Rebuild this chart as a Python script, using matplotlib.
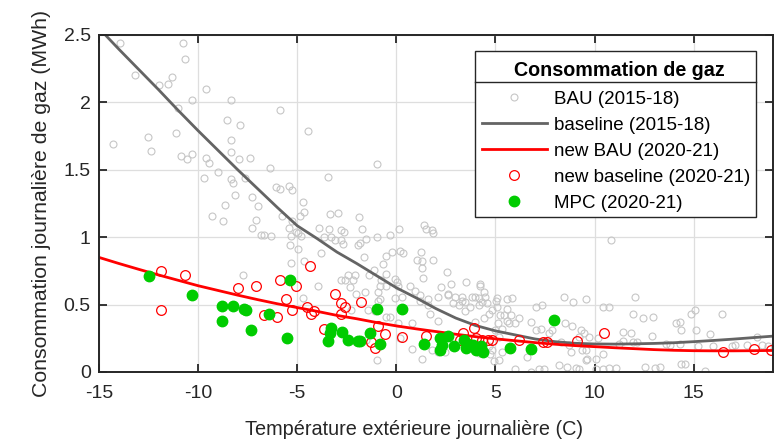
import numpy as np
import matplotlib
matplotlib.use('Agg')
import matplotlib.pyplot as plt
from matplotlib.lines import Line2D
from matplotlib.patches import Rectangle

plt.rcParams['font.family'] = ['Liberation Sans', 'DejaVu Sans']
plt.rcParams['axes.unicode_minus'] = False

# === BAU 2015-18 (grey circles) ===
bau_x = [-13.94, -10.76, -10.64, -13.17, -11.31, -11.99, -11.53, -9.59, -10.33, -8.32, -11.03, -5.87,
         -8.52, -7.90, -4.47, -12.55, -11.11, -14.31, -12.40, -8.32, -8.32, -10.86, -10.57, -10.30,
         -9.62, -9.47, -7.94, -7.36, -6.38, -0.99, -9.68, -8.98, -8.36, -8.24, -7.63, -3.45, -8.14,
         -7.28, -8.63, -6.97, -6.06, -5.86, -5.43, -5.28, -4.72, -4.67, -4.84, -3.37, -2.95, -1.88,
         -9.28, -8.76, -7.10, -5.77, -7.26, -5.43, -5.26, -3.88, -3.42, -2.80, -1.71, 0.13, 1.39,
         1.50, 1.80,
         -2.66, -0.33, -1.00, -1.51, -3.12, -2.78, -2.69, -3.29, -1.85, -1.93, -0.24, 0.18, 0.35,
         -0.50, -0.66, -1.63, 1.24, 1.02, 1.28, 1.31, 1.36, 1.87, -1.14, -0.50, -0.08, 0.01, -0.75,
         -0.84, -1.39, -2.10, -2.44, -2.19, -2.61, -2.78, -2.36, -2.02, -0.92, -0.50, 0.10, 0.69,
         0.94, 1.19, 2.55, 2.24, 2.75, 3.52, 4.20, 4.41, 4.49, 3.98, 3.31, 2.97, 2.63, 2.12, 1.62,
         5.08, 5.59,
         -1.60, -0.84, -0.08, 0.30, 1.19, 1.62, 3.31, 3.81, 4.15, 2.88, 3.14, 3.47, 3.73, 4.15,
         4.57, 5.03, 5.08, 4.83, 5.25, 4.66, 4.41, 3.98, 3.44, 5.13, 5.33, 5.00, 5.17, 4.83, 5.17,
         4.91, 4.74, -1.00, 0.77, 1.28, 1.70, -0.53, -0.33, -2.27,
         -7.76, -7.51, -5.31, -4.64, -3.79, -5.35, -4.94, -4.72, -3.96, -5.31, -5.06, -4.97, -4.81,
         -6.84, -6.33, -6.67, -3.63, -1.42, -1.09, -0.95, 0.10, 0.77, 2.12, 1.78, -2.02, -1.51, 0.18,
         1.87, 10.83, 2.60, 4.23, 4.32,
         5.59, 5.84, 5.42, 5.59, 5.76, 6.01, 6.18, 5.67, 6.77, 7.02, 7.36, 7.06, 7.28, 7.70, 8.46,
         8.92, 9.59, 8.51, 8.88, 10.41, 10.75, 10.15, 9.73, 9.22, 8.72, 8.80, 9.56, 10.07, 8.21,
         8.63, 9.05, 9.22, 10.75, 11.08, 12.52, 13.03, 13.31, 14.38, 14.55, 15.56, 6.01, 6.77, 7.19,
         7.45, 11.93, 12.43, 12.94, 12.06, 14.29, 14.38, 14.88, 15.05, 15.14, 15.82, 16.41, 17.08,
         16.91, 18.18, 17.67, 18.43, 18.77, 13.62, 13.79, 14.29, 15.22, 15.98, 11.93, 12.13, 11.42,
         11.84, 11.42, 9.56, 6.60, 5.33, 4.66, 4.15, 2.46, 2.12,
         14.12, 7.87, 9.31, 9.48, 12.90, 8.29, 9.39, 9.64, 10.41, 11.25, 10.07, 10.41]
bau_y = [2.44, 2.44, 2.32, 2.20, 2.19, 2.13, 2.14, 2.10, 2.02, 2.02, 1.96, 1.94,
         1.87, 1.83, 1.79, 1.74, 1.77, 1.69, 1.64, 1.72, 1.63, 1.60, 1.58, 1.62,
         1.59, 1.55, 1.58, 1.59, 1.51, 1.54, 1.44, 1.48, 1.43, 1.40, 1.44, 1.45, 1.31,
         1.30, 1.24, 1.23, 1.37, 1.36, 1.38, 1.35, 1.26, 1.19, 1.16, 1.17, 1.18, 1.15,
         1.16, 1.12, 1.13, 1.16, 1.07, 1.07, 1.12, 1.07, 1.06, 1.05, 1.06, 1.06, 1.09,
         1.06, 1.05,
         1.04, 1.02, 1.00, 0.99, 0.98, 0.98, 0.95, 1.00, 0.96, 0.94, 0.89, 0.90, 0.88,
         0.86, 0.80, 0.85, 0.89, 0.83, 0.82, 0.77, 0.70, 0.83, 0.76, 0.73, 0.69, 0.67, 0.68,
         0.64, 0.72, 0.72, 0.72, 0.68, 0.68, 0.68, 0.63, 0.58, 0.59, 0.64, 0.64, 0.64,
         0.60, 0.57, 0.74, 0.63, 0.65, 0.67, 0.65, 0.59, 0.56, 0.56, 0.56, 0.56, 0.57, 0.56, 0.54,
         0.55, 0.54,
         0.59, 0.54, 0.55, 0.56, 0.53, 0.50, 0.53, 0.56, 0.55, 0.51, 0.50, 0.52, 0.48, 0.50,
         0.51, 0.53, 0.48, 0.46, 0.42, 0.43, 0.40, 0.37, 0.45, 0.36, 0.32, 0.31, 0.26, 0.16, 0.09,
         0.08, 0.13, 0.09, 0.17, 0.10, 0.43, 0.41, 0.41, 0.46,
         0.72, 0.46, 0.81, 0.82, 0.88, 0.94, 0.91, 0.55, 0.64, 1.01, 1.04, 1.03, 1.01,
         1.02, 1.01, 1.02, 1.00, 0.46, 0.45, 0.53, 0.36, 0.36, 0.38, 0.16, 0.22, 0.24, 0.25,
         1.03, 0.98, 0.58, 0.64, 0.52,
         0.47, 0.55, 0.42, 0.38, 0.42, 0.36, 0.40, 0.36, 0.37, 0.48, 0.50, 0.31, 0.32, 0.29, 0.56,
         0.52, 0.54, 0.36, 0.34, 0.48, 0.48, 0.25, 0.26, 0.26, 0.20, 0.15, 0.16, 0.10, 0.05,
         0.04, 0.03, 0.02, 0.03, 0.03, 0.04, 0.03, 0.04, 0.06, 0.06, 0.01, 0.02, 0.00, 0.02,
         0.02, 0.43, 0.40, 0.41, 0.56, 0.37, 0.31, 0.43, 0.46, 0.31, 0.28, 0.43, 0.20,
         0.19, 0.26, 0.20, 0.20, 0.19, 0.21, 0.20, 0.21, 0.19, 0.19, 0.22, 0.22, 0.30,
         0.29, 0.23, 0.09, 0.11, 0.15, 0.19, 0.14, 0.15, 0.15,
         0.36, 0.31, 0.31, 0.29, 0.27, 0.22, 0.16, 0.10, 0.13, 0.21, 0.02, 0.02]

# === fitted curves ===
curve_x = list(range(-15, 20))
baseline_y = [2.55, 2.395, 2.245, 2.095, 1.94, 1.79, 1.645, 1.50, 1.36, 1.22, 1.085, 0.99,
              0.89, 0.805, 0.715, 0.625, 0.55, 0.47, 0.40, 0.345, 0.305, 0.275, 0.245, 0.225,
              0.213, 0.208, 0.207, 0.209, 0.212, 0.217, 0.225, 0.234, 0.244, 0.255, 0.266]
new_bau_y = [0.85, 0.805, 0.762, 0.72, 0.68, 0.64, 0.605, 0.57, 0.537, 0.506, 0.478, 0.45,
             0.42, 0.395, 0.367, 0.342, 0.32, 0.30, 0.28, 0.262, 0.246, 0.232, 0.218, 0.206,
             0.196, 0.188, 0.18, 0.173, 0.166, 0.161, 0.158, 0.157, 0.157, 0.158, 0.16]

# === new baseline 2020-21 (red circles) ===
nb_x = [-11.87, -11.87, -10.64, -7.97, -7.10, -5.86, -5.06, -5.58, -5.28, -6.67, -6.02, -4.35,
        -4.50, -4.30, -4.13, -3.07, -2.78, -2.61, -2.78, -3.66, -1.76, -0.92, -0.55, -1.26, -1.09,
        0.31, 1.50, 3.34, 3.92, 3.22, 4.00, 4.30, 4.60, 4.80, 6.21, 7.40, 7.62, 9.09, 10.49,
        16.49, 18.06, 18.89]
nb_y = [0.75, 0.46, 0.72, 0.62, 0.64, 0.68, 0.64, 0.54, 0.46, 0.42, 0.41, 0.79,
        0.48, 0.43, 0.45, 0.58, 0.51, 0.48, 0.43, 0.32, 0.52, 0.34, 0.28, 0.22, 0.18,
        0.26, 0.27, 0.29, 0.33, 0.24, 0.25, 0.24, 0.24, 0.24, 0.24, 0.22, 0.22, 0.23, 0.29,
        0.15, 0.17, 0.16]

# === MPC 2020-21 (green dots) ===
mpc_x = [-12.50, -10.33, -8.78, -8.78, -8.24, -7.71, -7.56, -7.34, -6.41, -5.52, -5.37, -3.29,
         -3.37, -3.45, -2.74, -2.44, -1.93, -1.85, -1.31, -0.84, -1.00, 0.30, 1.39, 2.21, 2.63,
         2.30, 2.18, 2.92, 3.43, 3.51, 3.60, 3.85, 4.02, 4.27, 4.35, 4.13, 5.72, 6.77, 7.96]
mpc_y = [0.71, 0.57, 0.49, 0.38, 0.49, 0.47, 0.46, 0.31, 0.43, 0.25, 0.68, 0.33,
         0.29, 0.23, 0.30, 0.24, 0.23, 0.23, 0.29, 0.21, 0.47, 0.47, 0.21, 0.25, 0.27,
         0.20, 0.16, 0.19, 0.24, 0.18, 0.21, 0.20, 0.16, 0.19, 0.15, 0.18, 0.18, 0.17, 0.385]

xticks = [-15, -10, -5, 0, 5, 10, 15]
yticks = [0, 0.5, 1, 1.5, 2, 2.5]
ytick_labels = ['0', '0.5', '1', '1.5', '2', '2.5']

dark = '#262626'

fig = plt.figure(figsize=(7.84, 4.43), dpi=100)
ax = fig.add_axes([99 / 784, 71 / 443, 674 / 784, 337 / 443])

ax.plot(bau_x, bau_y, 'o', ls='none', ms=5, mfc='none', mec='#c6c6c6', mew=0.8,
        label='BAU (2015-18)')
ax.plot(curve_x, baseline_y, color='#646464', lw=2.0, label='baseline (2015-18)')
ax.plot(curve_x, new_bau_y, color='red', lw=2.0, label='new BAU (2020-21)')
ax.plot(nb_x, nb_y, 'o', ls='none', ms=7, mfc='none', mec='red', mew=0.9,
        label='new baseline (2020-21)')
ax.plot(mpc_x, mpc_y, 'o', ls='none', ms=7.5, color='#00cc00',
        label='MPC (2020-21)')

ax.set_xlim(-15, 19)
ax.set_ylim(0, 2.5)
ax.set_xticks(xticks)
ax.set_xticklabels([str(t) for t in xticks])
ax.set_yticks(yticks)
ax.set_yticklabels(ytick_labels)
ax.grid(True, color='#dedede', lw=0.9)
ax.set_axisbelow(True)
ax.tick_params(direction='in', top=True, right=True, length=5.5, width=1.3,
               labelsize=14, labelcolor=dark, color=dark)
ax.tick_params(axis='x', pad=9)
ax.tick_params(axis='y', pad=6)
for s in ax.spines.values():
    s.set_linewidth(1.4)
    s.set_color(dark)

ax.set_xlabel('Température extérieure journalière (C)', fontsize=14.3, color=dark)
ax.xaxis.set_label_coords(0.467, -0.143)
ax.set_ylabel('Consommation journalière de gaz (MWh)', fontsize=15.3, color=dark, labelpad=9)

# === legend: MATLAB-like box with title and separator ===
ax.add_patch(Rectangle((0.558, 0.460), 0.417, 0.4925, transform=ax.transAxes,
                       facecolor='white', edgecolor=dark, lw=1.0, zorder=4.9))
ax.add_line(Line2D([0.558, 0.975], [0.8605, 0.8605], transform=ax.transAxes,
                   color=dark, lw=1.0, zorder=5.1))
ax.text(0.772, 0.896, 'Consommation de gaz', transform=ax.transAxes, ha='center', va='center',
        fontsize=14.2, fontweight='bold', color='black', zorder=6)
leg = ax.legend(loc='center left', bbox_to_anchor=(0.558, 0.655), fontsize=13.5,
                frameon=False, handlelength=3.5, handletextpad=0.35, borderpad=0.35,
                labelspacing=0.47, borderaxespad=0)
leg.set_zorder(6)

fig.savefig('out.png', dpi=100)
